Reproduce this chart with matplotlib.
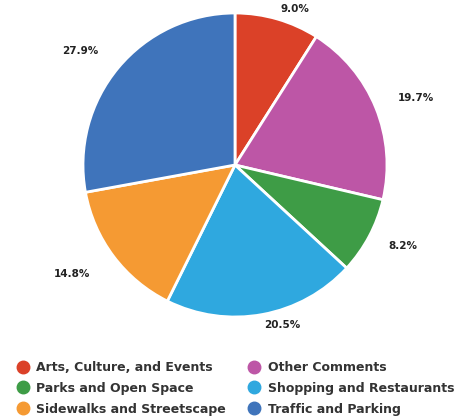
import matplotlib
matplotlib.use("Agg")
import numpy as np
import matplotlib.pyplot as plt
from matplotlib.lines import Line2D

# comment categories and their share of responses (%)
categories = ["Arts, Culture, and Events", "Other Comments", "Parks and Open Space",
              "Shopping and Restaurants", "Sidewalks and Streetscape", "Traffic and Parking"]
shares = [9.0, 19.7, 8.2, 20.5, 14.8, 27.9]
colors = ["#db4128", "#bd56a6", "#3e9c46", "#2fa8df", "#f59a33", "#3f74bb"]
label_dist = [1.07, 1.16, 1.14, 1.07, 1.19, 1.17]

W, H = 465, 420
fig = plt.figure(figsize=(W / 100, H / 100), dpi=100)

# pie centred at (235, 165) px with radius ~152 px
cx, cy, r = 235, 165, 152
ax = fig.add_axes([(cx - r) / W, (H - cy - r) / H, 2 * r / W, 2 * r / H])
wedges, _ = ax.pie(shares, colors=colors, startangle=90, counterclock=False,
                   wedgeprops=dict(edgecolor="white", linewidth=2))

# percentage labels outside each slice
for w, s, d in zip(wedges, shares, label_dist):
    ang = np.deg2rad((w.theta1 + w.theta2) / 2)
    x, y = d * np.cos(ang), d * np.sin(ang)
    ax.text(x, y, "%.1f%%" % s, ha="left" if x > 0 else "right", va="center",
            fontsize=7.5, fontweight="bold", color="#222222")

ax.set_xlim(-1, 1)
ax.set_ylim(-1, 1)
ax.set_aspect("equal")
ax.axis("off")

# legend: two columns, filled row by row
order = [0, 2, 4, 1, 3, 5]
handles = [Line2D([], [], marker="o", linestyle="none", markersize=9,
                  markerfacecolor=colors[i], markeredgecolor=colors[i]) for i in order]
labels = [categories[i] for i in order]
fig.legend(handles, labels, ncol=2, loc="upper left",
           bbox_to_anchor=(10 / W, 1 - 356 / H), frameon=False,
           prop=dict(size=9, weight="bold"), labelcolor="#333333",
           handletextpad=0.5, columnspacing=1.65, labelspacing=0.62,
           handlelength=1.2, borderaxespad=0)

fig.savefig("out.png", dpi=100)
